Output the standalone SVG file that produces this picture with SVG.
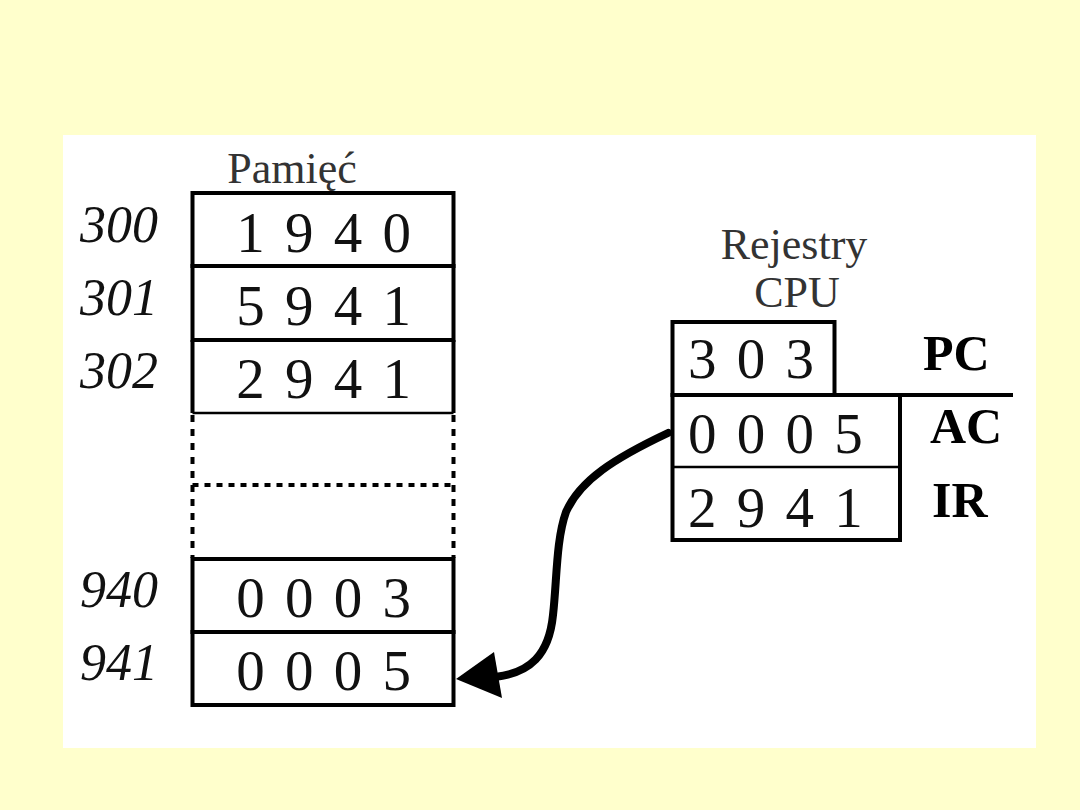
<svg xmlns="http://www.w3.org/2000/svg" width="1080" height="810" viewBox="0 0 1080 810">
  <style>
    .cell { fill: none; stroke: #000; stroke-width: 4; }
    .val { font-family: "Liberation Serif", serif; font-size: 57px; fill: #111; letter-spacing: 3px; }
    .addr { font-family: "Liberation Serif", serif; font-style: italic; font-size: 52px; fill: #111; }
    .title { font-family: "Liberation Serif", serif; font-size: 44px; fill: #333; text-anchor: middle; }
    .reg { font-family: "Liberation Serif", serif; font-weight: bold; font-size: 50px; fill: #000; }
    .dots { fill: none; stroke: #000; stroke-width: 4; stroke-dasharray: 7 7; }
  </style>
  <rect x="0" y="0" width="1080" height="810" fill="#FFFFCC"/>
  <rect x="63" y="135" width="973" height="613" fill="#FFFFFF"/>

  <g id="memory">
    <text class="title" x="292" y="183">Pamięć</text>
    <g id="mem-300">
      <rect class="cell" x="192.5" y="193" width="261" height="73"/>
      <text class="addr" x="80" y="242">300</text>
      <text class="val" x="325" y="252" text-anchor="middle">1 9 4 0</text>
    </g>
    <g id="mem-301">
      <rect class="cell" x="192.5" y="266" width="261" height="74"/>
      <text class="addr" x="80" y="315">301</text>
      <text class="val" x="325" y="325" text-anchor="middle">5 9 4 1</text>
    </g>
    <g id="mem-302">
      <path class="cell" d="M192.5,340 V413 M453.5,340 V413"/>
      <line x1="192.5" y1="413" x2="453.5" y2="413" stroke="#000" stroke-width="2.5"/>
      <text class="addr" x="80" y="388">302</text>
      <text class="val" x="325" y="398" text-anchor="middle">2 9 4 1</text>
    </g>
    <g id="mem-gap">
      <path class="dots" d="M192.5,415 V558 M453.5,415 V558"/>
      <line x1="192.5" y1="485" x2="453.5" y2="485" stroke="#000" stroke-width="4" stroke-dasharray="6 6"/>
    </g>
    <g id="mem-940">
      <rect class="cell" x="192.5" y="559" width="261" height="73"/>
      <text class="addr" x="80" y="607">940</text>
      <text class="val" x="325" y="617" text-anchor="middle">0 0 0 3</text>
    </g>
    <g id="mem-941">
      <rect class="cell" x="192.5" y="632" width="261" height="73"/>
      <text class="addr" x="80" y="680">941</text>
      <text class="val" x="325" y="690" text-anchor="middle">0 0 0 5</text>
    </g>
  </g>

  <g id="cpu">
    <text class="title" x="794" y="259" font-size="41" fill="#444">Rejestry</text>
    <text class="title" x="797" y="307" font-size="41" fill="#444">CPU</text>
    <g id="reg-pc">
      <path class="cell" d="M672.5,395 V322 H834.5 V395"/>
      <line x1="670.5" y1="395" x2="1013" y2="395" stroke="#000" stroke-width="4"/>
      <text class="val" x="688" y="378">3 0 3</text>
      <text class="reg" x="923" y="370">PC</text>
    </g>
    <g id="reg-ac">
      <path class="cell" d="M672.5,395 V467 M900,395 V467"/>
      <line x1="672.5" y1="467" x2="900" y2="467" stroke="#000" stroke-width="2.5"/>
      <text class="val" x="688" y="453">0 0 0 5</text>
      <text class="reg" x="930" y="443">AC</text>
    </g>
    <g id="reg-ir">
      <path class="cell" d="M672.5,467 V540 H900 V467"/>
      <text class="val" x="688" y="527">2 9 4 1</text>
      <text class="reg" x="932" y="517">IR</text>
    </g>
  </g>

  <g id="connectors">
    <path d="M668,433 C615,458 580,480 566,512 C556,540 557,580 553,615 C549,655 530,673 495,677" fill="none" stroke="#000" stroke-width="8" stroke-linecap="round"/>
    <polygon points="456,679 494,652 502,698" fill="#000"/>
  </g>
</svg>
